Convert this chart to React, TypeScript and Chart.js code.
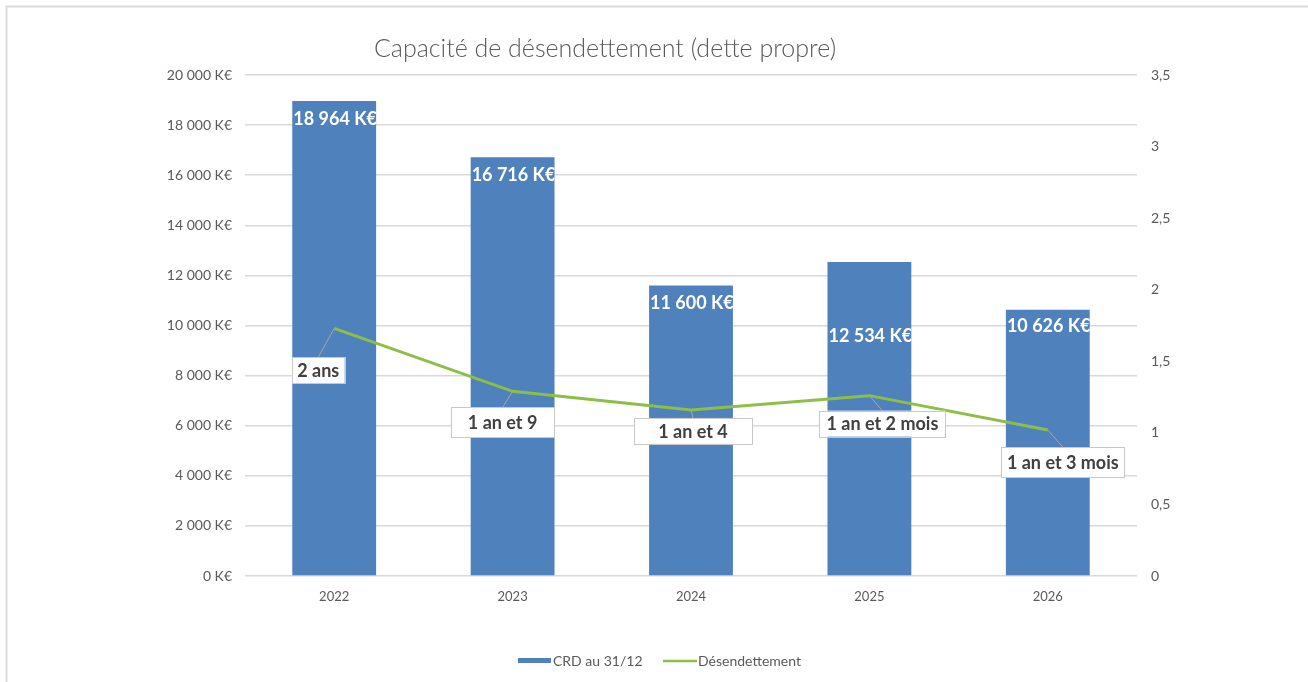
import React, { useEffect, useRef } from "react";
import { Chart, registerables } from "chart.js";

Chart.register(...registerables);

const categories = ["2022", "2023", "2024", "2025", "2026"];
const crdValues = [18964, 16716, 11600, 12534, 10626];
const desendettementValues = [1.73, 1.29, 1.16, 1.26, 1.02];
const barLabels = ["18 964 K€", "16 716 K€", "11 600 K€", "12 534 K€", "10 626 K€"];
const lineLabels = ["2 ans", "1 an et 9", "1 an et 4", "1 an et 2 mois", "1 an et 3 mois"];
const seriesNames = ["CRD au 31/12", "Désendettement"];
const titleText = "Capacité de désendettement (dette propre)";

const BLUE = "#4F81BD";
const GREEN = "#8DBF46";
const GRAY_TEXT = "#595959";
const FONT = "Lato, 'Open Sans', sans-serif";

// label placement styles (offsets of label boxes relative to their point)
const barLabelDy = [18, 18, 18, 74, 16];
const lineLabelBox = [
  { dx: -16, dy: 42, w: 53, h: 26 },
  { dx: -10, dy: 31, w: 103, h: 30 },
  { dx: 2, dy: 21, w: 118, h: 26 },
  { dx: 13, dy: 28, w: 126, h: 26 },
  { dx: 15, dy: 32, w: 123, h: 30 },
];

function formatK(v: number): string {
  const s = Math.round(v).toString().replace(/\B(?=(\d{3})+(?!\d))/g, " ");
  return s + " K€";
}

const decorPlugin = {
  id: "decor",
  beforeDraw(chart: any) {
    const ctx = chart.ctx;
    ctx.save();
    ctx.fillStyle = "#ffffff";
    ctx.fillRect(0, 0, chart.width, chart.height);
    ctx.strokeStyle = "#dcdcdc";
    ctx.lineWidth = 2;
    ctx.beginPath();
    ctx.moveTo(6.5, chart.height);
    ctx.lineTo(6.5, 6.5);
    ctx.lineTo(chart.width, 6.5);
    ctx.stroke();
    // title
    ctx.fillStyle = GRAY_TEXT;
    ctx.font = `300 25px ${FONT}`;
    ctx.textAlign = "center";
    ctx.textBaseline = "middle";
    ctx.fillText(titleText, 605, 49);
    ctx.restore();
  },
  afterDatasetsDraw(chart: any) {
    const ctx = chart.ctx;
    ctx.save();
    // bar labels
    const barMeta = chart.getDatasetMeta(0);
    barMeta.data.forEach((el: any, i: number) => {
      const left = el.x - el.width / 2;
      const right = el.x + el.width / 2;
      ctx.save();
      ctx.beginPath();
      ctx.rect(left, el.y, right - left, el.base - el.y);
      ctx.clip();
      ctx.fillStyle = "#ffffff";
      ctx.font = `bold 18px ${FONT}`;
      ctx.textAlign = "left";
      ctx.textBaseline = "middle";
      ctx.fillText(barLabels[i], left + 1, el.y + barLabelDy[i]);
      ctx.restore();
    });
    // line labels
    const lineMeta = chart.getDatasetMeta(1);
    lineMeta.data.forEach((el: any, i: number) => {
      const b = lineLabelBox[i];
      const cx = el.x + b.dx;
      const cy = el.y + b.dy;
      const top = cy - b.h / 2;
      ctx.strokeStyle = "#a6a6a6";
      ctx.lineWidth = 1;
      ctx.beginPath();
      ctx.moveTo(el.x, el.y);
      ctx.lineTo(cx, top);
      ctx.stroke();
      ctx.fillStyle = "#ffffff";
      ctx.fillRect(cx - b.w / 2, top, b.w, b.h);
      ctx.strokeStyle = "#c8c8c8";
      ctx.strokeRect(Math.round(cx - b.w / 2) + 0.5, Math.round(top) + 0.5, b.w, b.h);
      ctx.fillStyle = "#404040";
      ctx.font = `bold 18px ${FONT}`;
      ctx.textAlign = "center";
      ctx.textBaseline = "middle";
      ctx.fillText(lineLabels[i], cx, cy + 1);
    });
    // legend
    ctx.font = `14px ${FONT}`;
    ctx.textAlign = "left";
    ctx.textBaseline = "middle";
    ctx.fillStyle = BLUE;
    ctx.fillRect(518, 658, 33, 5);
    ctx.fillStyle = GRAY_TEXT;
    ctx.fillText(seriesNames[0], 553, 661);
    ctx.strokeStyle = GREEN;
    ctx.lineWidth = 2.5;
    ctx.beginPath();
    ctx.moveTo(663, 661);
    ctx.lineTo(697, 661);
    ctx.stroke();
    ctx.fillStyle = GRAY_TEXT;
    ctx.fillText(seriesNames[1], 698, 661);
    ctx.restore();
  },
};

export default function App() {
  const ref = useRef<HTMLCanvasElement | null>(null);
  useEffect(() => {
    if (!ref.current) return;
    const chart = new Chart(ref.current, {
      type: "bar",
      data: {
        labels: categories,
        datasets: [
          {
            type: "bar",
            label: seriesNames[0],
            data: crdValues,
            backgroundColor: BLUE,
            categoryPercentage: 1,
            barPercentage: 0.47,
            yAxisID: "y",
            order: 1,
          } as any,
          {
            type: "line",
            label: seriesNames[1],
            data: desendettementValues,
            borderColor: GREEN,
            backgroundColor: GREEN,
            borderWidth: 3,
            pointRadius: 0,
            yAxisID: "y1",
            order: 0,
          } as any,
        ],
      },
      options: {
        responsive: false,
        animation: false,
        layout: { padding: { left: 0, right: 0, top: 75, bottom: 60 } },
        plugins: {
          legend: { display: false },
          title: { display: false },
          tooltip: { enabled: false },
        },
        scales: {
          x: {
            grid: { display: false, drawTicks: false },
            border: { display: false },
            ticks: { color: GRAY_TEXT, font: { family: FONT, size: 13 }, padding: 13 },
            afterFit: (s: any) => {
              s.height = 46;
            },
          },
          y: {
            position: "left",
            min: 0,
            max: 20000,
            ticks: {
              stepSize: 2000,
              color: GRAY_TEXT,
              font: { family: FONT, size: 14 },
              padding: 13,
              callback: (v: any) => formatK(Number(v)),
            },
            grid: { color: "#d9d9d9", drawTicks: false, lineWidth: 1.5 },
            border: { display: false },
            afterFit: (s: any) => {
              s.width = 245;
            },
          },
          y1: {
            position: "right",
            min: 0,
            max: 3.5,
            ticks: {
              stepSize: 0.5,
              color: GRAY_TEXT,
              font: { family: FONT, size: 14 },
              padding: 14,
              callback: (v: any) => String(v).replace(".", ","),
            },
            grid: { display: false, drawTicks: false },
            border: { display: false },
            afterFit: (s: any) => {
              s.width = 171;
            },
          },
        },
      },
      plugins: [decorPlugin],
    });
    return () => chart.destroy();
  }, []);
  return (
    <div style={{ position: "fixed", left: 0, top: 0, width: 1308, height: 682 }}>
      <canvas ref={ref} width={1308} height={682} style={{ display: "block" }} />
    </div>
  );
}
